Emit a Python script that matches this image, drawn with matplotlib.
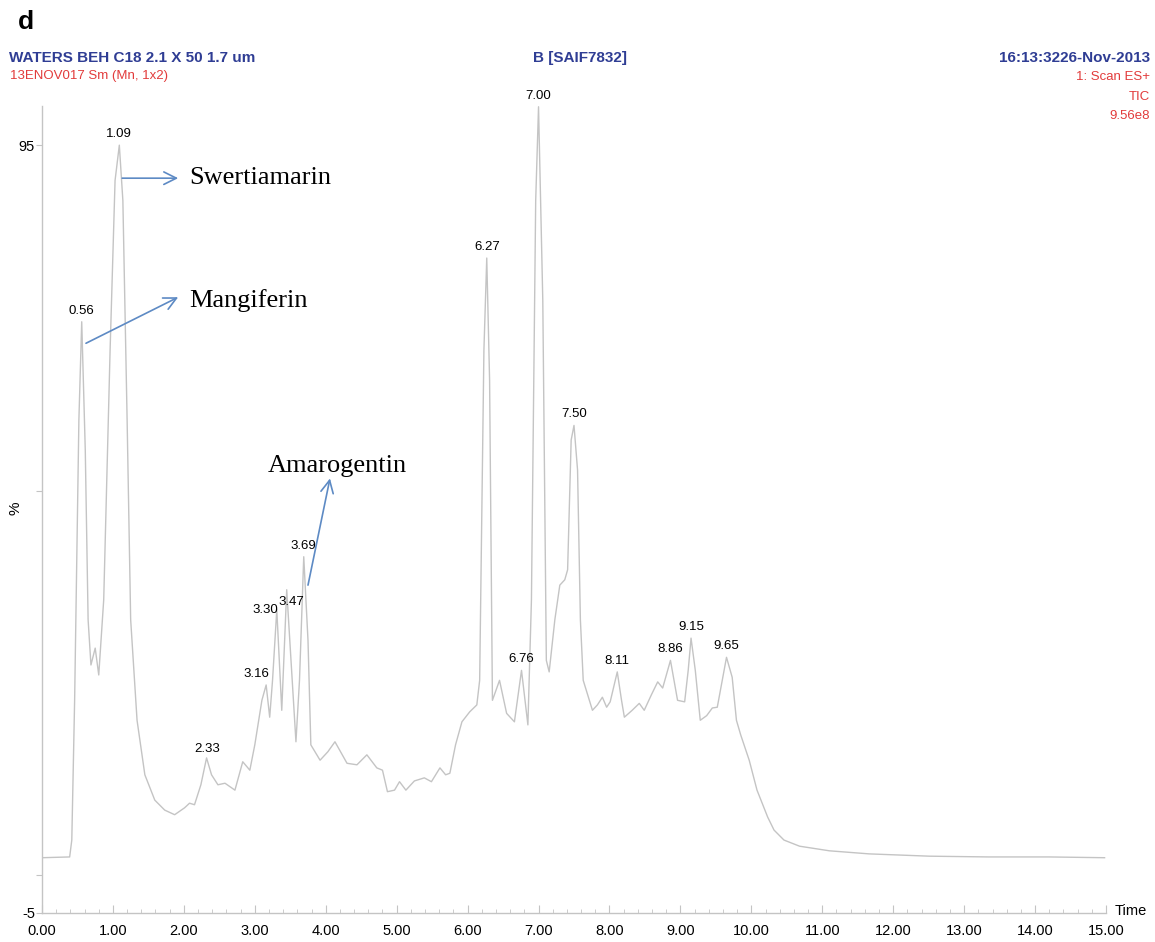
import numpy as np
import matplotlib.pyplot as plt

# TIC trace (time in min, intensity in %)
t = [0.00, 0.39, 0.42, 0.46, 0.52, 0.56, 0.61, 0.65, 0.69, 0.75, 0.80, 0.87, 0.96, 1.03, 1.09,
     1.14, 1.20, 1.25, 1.34, 1.45, 1.59, 1.73, 1.87, 2.01, 2.08, 2.15, 2.24, 2.32, 2.39, 2.48,
     2.58, 2.72, 2.83, 2.93, 3.00, 3.10, 3.16, 3.21, 3.25, 3.31, 3.38, 3.45, 3.51, 3.58, 3.63,
     3.69, 3.75, 3.79, 3.92, 4.03, 4.13, 4.30, 4.44, 4.58, 4.72, 4.80, 4.87, 4.97, 5.04, 5.13,
     5.25, 5.39, 5.49, 5.61, 5.69, 5.75, 5.83, 5.92, 6.03, 6.13, 6.17, 6.23, 6.27, 6.31, 6.35,
     6.45, 6.55, 6.66, 6.76, 6.85, 6.90, 6.96, 7.00, 7.06, 7.11, 7.15, 7.23, 7.30, 7.37, 7.41,
     7.46, 7.50, 7.55, 7.59, 7.63, 7.76, 7.83, 7.90, 7.96, 8.01, 8.11, 8.17, 8.21, 8.32, 8.42,
     8.49, 8.59, 8.68, 8.75, 8.86, 8.96, 9.06, 9.11, 9.15, 9.21, 9.28, 9.37, 9.45, 9.52, 9.59,
     9.65, 9.73, 9.79, 9.85, 9.97, 10.08, 10.23, 10.32, 10.46, 10.68, 11.10, 11.66, 12.51, 13.35,
     14.20, 14.98]
inten = [2.2, 2.3, 4.5, 22.7, 59.2, 72.0, 55.3, 33.2, 27.3, 29.5, 26.0, 35.8, 68.3, 90.4, 95.0,
         87.8, 59.2, 33.2, 20.1, 13.0, 9.7, 8.4, 7.8, 8.7, 9.3, 9.1, 11.7, 15.2, 13.0, 11.7,
         11.9, 11.0, 14.7, 13.6, 16.9, 22.7, 24.7, 20.5, 25.3, 34.5, 21.4, 37.1, 27.9, 17.3, 25.3,
         41.4, 30.5, 16.9, 14.9, 16.0, 17.3, 14.5, 14.3, 15.6, 13.9, 13.6, 10.8, 11.0, 12.1, 11.0,
         12.2, 12.6, 12.1, 13.9, 13.0, 13.2, 16.9, 19.9, 21.2, 22.1, 25.3, 68.3, 80.3, 64.4, 22.7,
         25.3, 21.0, 19.9, 26.6, 19.5, 35.8, 87.8, 100.0, 74.8, 27.9, 26.4, 33.2, 37.7, 38.4, 39.7,
         56.6, 58.5, 52.7, 33.2, 25.3, 21.4, 22.1, 23.1, 21.8, 22.5, 26.4, 22.7, 20.5, 21.4, 22.3,
         21.4, 23.4, 25.1, 24.3, 27.9, 22.7, 22.5, 26.6, 30.8, 26.6, 20.1, 20.7, 21.7, 21.8, 25.3,
         28.3, 25.7, 20.1, 18.2, 14.9, 11.0, 7.5, 5.8, 4.5, 3.7, 3.1, 2.7, 2.4, 2.3,
         2.3, 2.2]

peak_labels = ['0.56', '1.09', '2.33', '3.16', '3.30', '3.47', '3.69', '6.27', '6.76',
               '7.00', '7.50', '8.11', '8.86', '9.15', '9.65']
# label shifts in pixels (most labels sit straight above the peak)
label_dx = {'3.16': -10, '3.30': -11, '3.47': 3}

compounds = ['Swertiamarin', 'Mangiferin', 'Amarogentin']
arrow_from = [(1.13, 90.7), (0.62, 69.2), (3.75, 37.7)]
arrow_to = [(1.92, 90.7), (1.92, 75.2), (4.06, 51.6)]
text_pos = [(2.08, 90.7), (2.08, 74.8), (3.18, 53.2)]

xticks = np.arange(0, 16, 1)
blue = '#2f3d94'
red = '#e23b3b'
grey = '#c4c4c4'
sans = ['Liberation Sans', 'DejaVu Sans']

plt.rcParams['font.family'] = ['Liberation Sans', 'DejaVu Sans']

fig = plt.figure(figsize=(11.55, 9.42), dpi=100)
ax = fig.add_axes([42 / 1155, 29 / 942, (1106 - 42) / 1155, (913 - 106) / 942])

ax.plot(t, inten, color=grey, lw=1.0)
ax.set_xlim(0, 15)
ax.set_ylim(-5, 100.1)

for s in ['top', 'right']:
    ax.spines[s].set_visible(False)
for s in ['left', 'bottom']:
    ax.spines[s].set_color(grey)
    ax.spines[s].set_linewidth(1.0)

ax.set_xticks(xticks, labels=[f'{v:.2f}' for v in xticks], fontsize=10.5)
ax.set_xticks(np.arange(0, 15.01, 0.2), minor=True)
ax.tick_params(axis='x', which='major', direction='in', length=6, color=grey, pad=8)
ax.tick_params(axis='x', which='minor', direction='in', length=3, color=grey)
ax.set_yticks([-5, 0, 50, 95], labels=['-5', '', '', '95'], fontsize=10.5)
ax.tick_params(axis='y', direction='out', length=4, color=grey, pad=1)

ax.text(1.008, 0.003, 'Time', transform=ax.transAxes, ha='left', va='center', fontsize=10.5)
fig.text(15 / 1155, 1 - 508 / 942, '%', rotation=90, ha='center', va='center', fontsize=11)

# retention time labels
for lab in peak_labels:
    x0 = float(lab)
    y0 = np.interp(x0, t, inten)
    ax.annotate(lab, (x0, y0), xytext=(label_dx.get(lab, 0), 5), textcoords='offset pixels',
                ha='center', va='bottom', fontsize=9.5)

# compound annotations
for name, p0, p1, pt in zip(compounds, arrow_from, arrow_to, text_pos):
    ax.annotate('', xy=p1, xytext=p0,
                arrowprops=dict(arrowstyle='->,head_length=0.9,head_width=0.45',
                                color='#5d8ac4', lw=1.2, shrinkA=0, shrinkB=0))
    ax.text(pt[0], pt[1], name, family=['Liberation Serif', 'DejaVu Serif'],
            fontsize=19, ha='left', va='center')

# header
fig.text(18 / 1155, 1 - 22 / 942, 'd', fontsize=19, fontweight='bold', ha='left', va='center')
fig.text(9 / 1155, 1 - 58 / 942, 'WATERS BEH C18 2.1 X 50 1.7 um', color=blue, family=sans,
         fontsize=11, fontweight='bold', ha='left', va='center')
fig.text(10 / 1155, 1 - 76 / 942, '13ENOV017 Sm (Mn, 1x2)', color=red, family=sans,
         fontsize=9.5, ha='left', va='center')
fig.text(580 / 1155, 1 - 58 / 942, 'B [SAIF7832]', color=blue, family=sans,
         fontsize=11, fontweight='bold', ha='center', va='center')
fig.text(1150 / 1155, 1 - 58 / 942, '16:13:3226-Nov-2013', color=blue, family=sans,
         fontsize=11, fontweight='bold', ha='right', va='center')
for i, s in enumerate(['1: Scan ES+', 'TIC', '9.56e8']):
    fig.text(1150 / 1155, 1 - (77 + 19.5 * i) / 942, s, color=red, family=sans,
             fontsize=9.5, ha='right', va='center')

fig.savefig('out.png', dpi=100)
